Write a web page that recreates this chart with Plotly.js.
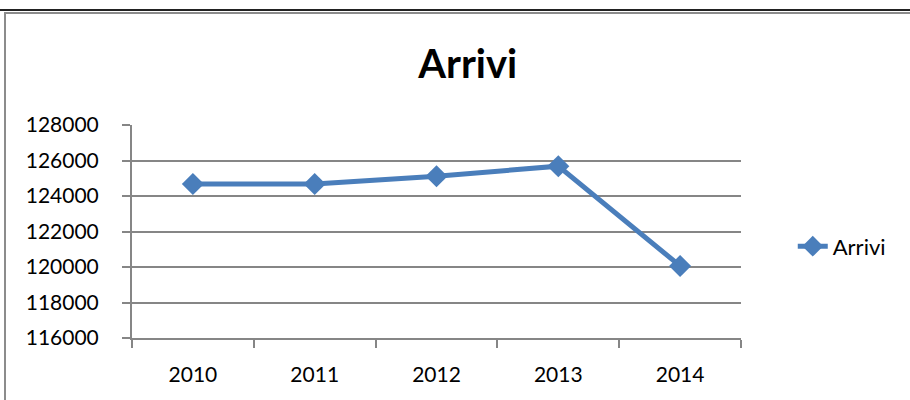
<!DOCTYPE html>
<html>
<head>
<meta charset="utf-8">
<script src="https://cdn.plot.ly/plotly-3.0.1.min.js"></script>
<style>
  html, body { margin: 0; padding: 0; background: #fff; }
  #wrap { position: relative; width: 910px; height: 400px; overflow: hidden; }
  #chart { position: absolute; left: 0; top: 0; width: 910px; height: 400px; }
  /* sheet edge + chart frame, as in the spreadsheet capture */
  .edge-top { position: absolute; left: 0; top: 9px; width: 910px; height: 2px; background: #222; }
  .frame { position: absolute; left: 4px; top: 12px; width: 910px; height: 400px;
    border-left: 2px solid #8c8c8c; border-top: 2px solid #8c8c8c; }
</style>
</head>
<body>
<div id="wrap">
  <div id="chart"></div>
  <div class="edge-top"></div>
  <div class="frame"></div>
</div>
<script>
// --- data ---
const years = ['2010', '2011', '2012', '2013', '2014'];
const arrivi = [124680, 124680, 125110, 125680, 120060];
const yTicks = [116000, 118000, 120000, 122000, 124000, 126000, 128000];

const FONT = 'Lato, "Open Sans", sans-serif';
const BLUE = '#4a7ebb';
const GRID = '#868686';

const trace = {
  type: 'scatter', mode: 'lines+markers', name: 'Arrivi',
  x: years, y: arrivi,
  line: { color: BLUE, width: 5 },
  marker: { symbol: 'diamond', size: 17, color: BLUE, line: { width: 0 } },
  hoverinfo: 'x+y',
};

const layout = {
  width: 910, height: 400,
  paper_bgcolor: '#fff', plot_bgcolor: '#fff',
  margin: { l: 132, r: 169, t: 125, b: 62 },
  font: { family: FONT, color: '#000', size: 21 },
  title: { text: '<b>Arrivi</b>', font: { family: FONT, size: 40, color: '#000' },
    x: 0.514, xanchor: 'center', y: 0.84, yanchor: 'middle', xref: 'container', yref: 'container' },
  xaxis: {
    type: 'category', range: [-0.5, 4.5],
    showgrid: false, zeroline: false,
    showline: true, linecolor: GRID, linewidth: 2,
    ticks: 'outside', tickson: 'boundaries', ticklen: 8, tickwidth: 2, tickcolor: GRID,
    ticklabelstandoff: 17,
    tickfont: { family: FONT, size: 21, color: '#000' },
  },
  yaxis: {
    range: [116000, 128000],
    tickmode: 'array', tickvals: yTicks, ticktext: yTicks.map(String),
    showgrid: true, gridcolor: GRID, gridwidth: 2, zeroline: false,
    showline: true, linecolor: GRID, linewidth: 2,
    ticks: 'outside', ticklen: 8, tickwidth: 2, tickcolor: GRID,
    ticklabelstandoff: 19,
    tickfont: { family: FONT, size: 21, color: '#000' },
  },
  showlegend: true,
  legend: { x: 1.085, xanchor: 'left', y: 0.43, yanchor: 'middle',
    bgcolor: 'rgba(0,0,0,0)', borderwidth: 0,
    font: { family: FONT, size: 22, color: '#000' } },
};

Plotly.newPlot('chart', [trace], layout, { displayModeBar: false, staticPlot: true });
</script>
</body>
</html>
